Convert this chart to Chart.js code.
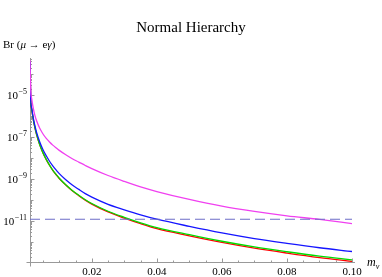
<!DOCTYPE html>
<html>
<head>
<meta charset="utf-8">
<script src="https://cdn.jsdelivr.net/npm/chart.js@4.4.0/dist/chart.umd.min.js"></script>
<style>
  body { margin: 0; background: #fff; }
  #wrap { width: 382px; height: 277px; }
</style>
</head>
<body>
<div id="wrap"><canvas id="myChart" width="382" height="277"></canvas></div>
<script>
// neutrino mass m_nu (eV)
var mass = [0.001, 0.00125, 0.0015, 0.002, 0.0025, 0.003, 0.004, 0.005, 0.006, 0.007,
            0.008, 0.009, 0.01, 0.012, 0.014, 0.016, 0.018, 0.02, 0.025, 0.03,
            0.035, 0.04, 0.05, 0.06, 0.07, 0.08, 0.09, 0.10];
// Br(mu -> e gamma)
var magentaBr = [4.47e-4, 1.45e-5, 6.92e-6, 2.34e-6, 1.07e-6, 6.03e-7, 2.57e-7, 1.38e-7, 8.51e-8, 5.75e-8,
                 4.07e-8, 3.02e-8, 2.29e-8, 1.41e-8, 9.12e-9, 6.31e-9, 4.37e-9, 3.09e-9, 1.45e-9, 7.59e-10,
                 4.17e-10, 2.51e-10, 1.05e-10, 5.01e-11, 2.82e-11, 1.74e-11, 1.17e-11, 7.41e-12];
var blueBr = [3.72e-4, 5.01e-6, 2.46e-6, 8.13e-7, 3.47e-7, 1.70e-7, 5.76e-8, 2.46e-8, 1.26e-8, 6.92e-9,
              4.17e-9, 2.69e-9, 1.78e-9, 9.12e-10, 5.13e-10, 3.16e-10, 1.99e-10, 1.35e-10, 6.16e-11, 3.39e-11,
              1.95e-11, 1.20e-11, 5.50e-12, 2.69e-12, 1.44e-12, 8.52e-13, 5.25e-13, 3.47e-13];
var greenBr = [3.55e-4, 4.57e-6, 2.19e-6, 6.92e-7, 2.82e-7, 1.35e-7, 4.27e-8, 1.74e-8, 8.51e-9, 4.57e-9,
               2.63e-9, 1.66e-9, 1.07e-9, 5.25e-10, 2.82e-10, 1.66e-10, 1.02e-10, 6.76e-11, 2.88e-11, 1.48e-11,
               8.13e-12, 4.79e-12, 2.19e-12, 1.07e-12, 5.75e-13, 3.39e-13, 2.09e-13, 1.38e-13];
var redBr = [3.55e-4, 4.47e-6, 2.14e-6, 6.76e-7, 2.76e-7, 1.32e-7, 4.17e-8, 1.70e-8, 8.31e-9, 4.47e-9,
             2.57e-9, 1.62e-9, 1.05e-9, 5.13e-10, 2.72e-10, 1.59e-10, 9.74e-11, 6.31e-11, 2.66e-11, 1.35e-11,
             7.33e-12, 4.27e-12, 1.95e-12, 9.43e-13, 5.01e-13, 2.92e-13, 1.78e-13, 1.17e-13];
var boundBr = 1.2e-11;           // dashed experimental bound
var boundMass = [0.001, 0.10];

var xTicks = [0.02, 0.04, 0.06, 0.08, 0.10];
var xTickLabels = ['0.02', '0.04', '0.06', '0.08', '0.10'];
var yTickExp = [-5, -7, -9, -11];

var serif = '"Liberation Serif", "DejaVu Serif", serif';

function pts(ys) {
    return mass.map(function(m, i) { return {x: m, y: ys[i]}; });
}

function curve(data, color) {
    return {
        data: data, borderColor: color, borderWidth: 1.3,
        pointRadius: 0, fill: false, cubicInterpolationMode: 'monotone'
    };
}

var axesPlugin = {
    id: 'mmaAxes',
    beforeDatasetsDraw: function(chart) {
        var c = chart.ctx, xs = chart.scales.x, ys = chart.scales.y, a = chart.chartArea;
        var x0 = Math.round(a.left) + 0.5, y0 = Math.round(a.bottom) + 0.5;
        c.save();
        c.strokeStyle = '#999';
        c.lineWidth = 1;
        c.beginPath();
        c.moveTo(x0 - 4, y0); c.lineTo(a.right + 3, y0);
        c.moveTo(x0, a.top); c.lineTo(x0, y0 + 4);
        // x ticks, every 0.005, major every 0.02
        for (var k = 1; k <= 20; k++) {
            var v = k * 0.005;
            var px = Math.round(xs.getPixelForValue(v)) + 0.5;
            var len = (k % 4 === 0) ? 4 : 2;
            c.moveTo(px, y0); c.lineTo(px, y0 - len);
        }
        // y ticks, log
        for (var e = -13; e <= -4; e++) {
            for (var d = 1; d <= 9; d++) {
                var val = d * Math.pow(10, e);
                if (val < ys.min || val > ys.max) continue;
                var py = Math.round(ys.getPixelForValue(val)) + 0.5;
                var l = d === 1 ? (e % 2 !== 0 ? 4 : 3) : 1.5;
                c.moveTo(x0, py); c.lineTo(x0 + l, py);
            }
        }
        c.stroke();
        c.restore();
    },
    afterDraw: function(chart) {
        var c = chart.ctx, xs = chart.scales.x, ys = chart.scales.y, a = chart.chartArea;
        c.save();
        c.fillStyle = '#000';
        // title
        c.font = '15px ' + serif;
        c.textAlign = 'center';
        c.textBaseline = 'alphabetic';
        c.fillText('Normal Hierarchy', (a.left + a.right) / 2, 32);
        // x tick labels
        c.font = '11px ' + serif;
        c.textBaseline = 'middle';
        xTicks.forEach(function(v, i) {
            c.fillText(xTickLabels[i], xs.getPixelForValue(v), 272);
        });
        // y tick labels 10^n
        c.textAlign = 'left';
        c.textBaseline = 'alphabetic';
        yTickExp.forEach(function(n) {
            var py = ys.getPixelForValue(Math.pow(10, n));
            var sup = '\u2212' + (-n);
            c.font = '8px ' + serif;
            var ws = c.measureText(sup).width;
            c.font = '11px ' + serif;
            var wb = c.measureText('10').width;
            var right = a.left - 3;
            c.fillText('10', right - ws - wb - 0.5, py + 4);
            c.font = '8px ' + serif;
            c.fillText(sup, right - ws, py - 1);
        });
        // y axis label Br(mu -> e gamma)
        var x = 3, base = 48;
        var parts = [['Br (', ''], ['\u03bc', 'italic '], [' \u2192 e', ''], ['\u03b3', 'italic '], [')', '']];
        parts.forEach(function(p) {
            c.font = p[1] + '11px ' + serif;
            c.fillText(p[0], x, base);
            x += c.measureText(p[0]).width;
        });
        // x axis label m_nu
        c.font = 'italic 12px ' + serif;
        c.fillText('m', 367, 266);
        var wm = c.measureText('m').width;
        c.font = 'italic 8px ' + serif;
        c.fillText('\u03bd', 367 + wm, 269);
        c.restore();
    }
};

var ctx = document.getElementById('myChart').getContext('2d');
var chartObj = {
    type: 'line',
    data: {
        datasets: [
            {
                data: boundMass.map(function(m) { return {x: m, y: boundBr}; }),
                borderColor: 'rgb(110,110,200)', borderWidth: 1.1, borderDash: [10, 5],
                pointRadius: 0, fill: false
            },
            curve(pts(magentaBr), '#f040f0'),
            curve(pts(blueBr), '#1515ff'),
            curve(pts(greenBr), '#00dd00'),
            curve(pts(redBr), '#ff0000')
        ]
    },
    options: {
        responsive: false,
        animation: false,
        layout: { padding: { left: 30, right: 30, top: 58, bottom: 15 } },
        plugins: { legend: { display: false }, tooltip: { enabled: false }, title: { display: false } },
        scales: {
            x: { type: 'linear', min: 0.001, max: 0.1, display: false },
            y: { type: 'logarithmic', min: 1.1e-13, max: 5.75e-4, display: false }
        }
    },
    plugins: [axesPlugin]
};
var chart = new Chart(ctx, chartObj);
</script>
</body>
</html>
